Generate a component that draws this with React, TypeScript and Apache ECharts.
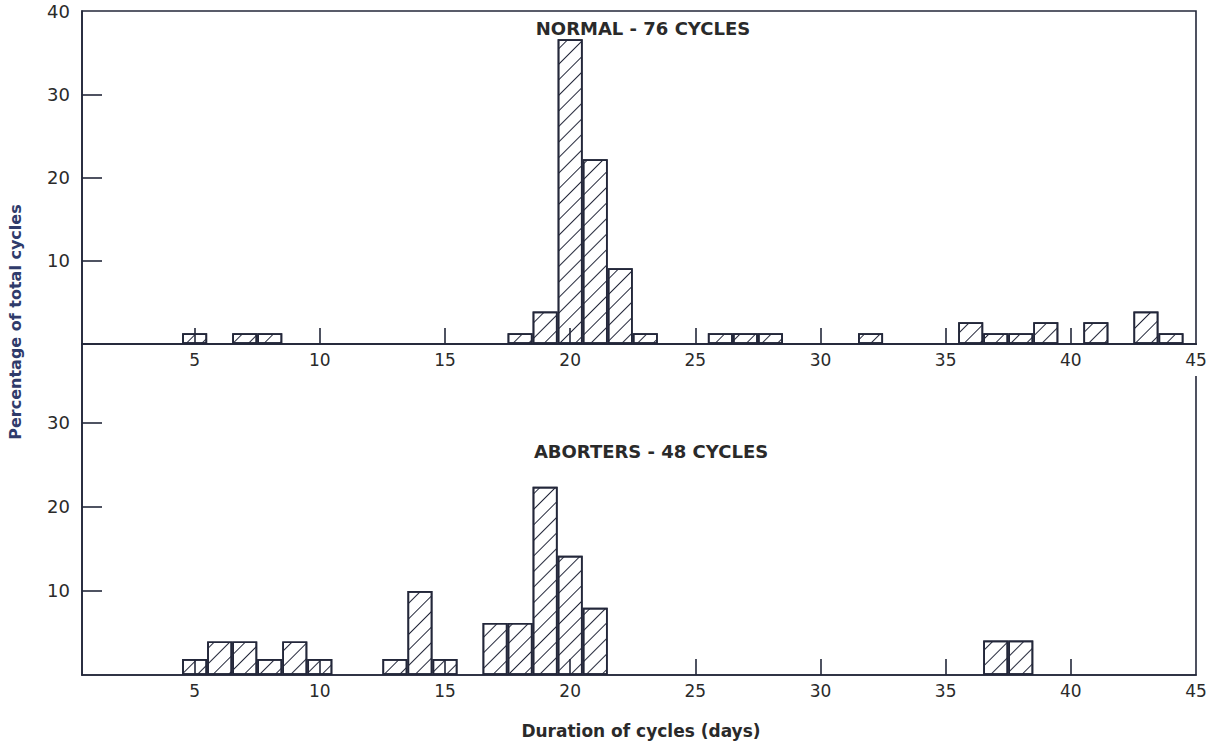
import React, { useEffect, useRef } from 'react';
import * as echarts from 'echarts';

// Normal cycles (76): day -> percentage of total cycles
const normalDays = [5, 7, 8, 18, 19, 20, 21, 22, 23, 26, 27, 28, 32, 36, 37, 38, 39, 41, 43, 44];
const normalPct = [1.3, 1.3, 1.3, 1.3, 3.9, 36.6, 22.2, 9.1, 1.3, 1.3, 1.3, 1.3, 1.3, 2.6, 1.3, 1.3, 2.6, 2.6, 3.9, 1.3];

// Aborters (48 cycles)
const aborterDays = [5, 6, 7, 8, 9, 10, 13, 14, 15, 17, 18, 19, 20, 21, 37, 38];
const aborterPct = [1.9, 4.0, 4.0, 1.9, 4.0, 1.9, 1.9, 10.0, 1.9, 6.2, 6.2, 22.4, 14.2, 8.0, 4.1, 4.1];

const xLabelValues = [5, 10, 15, 20, 25, 30, 35, 40, 45];
const xTickValues = [5, 10, 15, 20, 25, 30, 35, 40];
const topYLabels = [10, 20, 30, 40];
const bottomYLabels = [10, 20, 30];
const yTickValues = [10, 20, 30];

const titleTop = 'NORMAL - 76 CYCLES';
const titleBottom = 'ABORTERS - 48 CYCLES';
const xTitle = 'Duration of cycles (days)';
const yTitle = 'Percentage of total cycles';

const INK = '#23273a';
const TEXT = '#2a2a2a';
const NAVY = '#2f3b6b';
const FONT = 'DejaVu Sans';

const hatch = {
  symbol: 'rect',
  symbolSize: 1,
  dashArrayX: [1, 0],
  dashArrayY: [1, 9.5],
  rotation: -Math.PI / 4,
  color: INK,
  backgroundColor: '#ffffff',
};

function xAxisCfg(gridIndex: number) {
  return {
    type: 'value',
    gridIndex,
    min: 0.5,
    max: 45,
    z: gridIndex === 0 ? 10 : 2,
    axisLine: { show: true, lineStyle: { color: INK, width: 1.6 } },
    axisTick: { show: true, inside: true, length: 16, customValues: xTickValues, lineStyle: { color: INK, width: 1.6 } },
    axisLabel: {
      customValues: xLabelValues,
      margin: 1,
      fontFamily: FONT,
      fontSize: 17,
      color: (v: number) => (v === 45 ? NAVY : TEXT),
      backgroundColor: '#ffffff',
      padding: [6, 2, 8, 2],
    },
    splitLine: { show: false },
  };
}

function yAxisCfg(gridIndex: number, labels: number[], max: number) {
  return {
    type: 'value',
    gridIndex,
    min: 0,
    max,
    axisLine: { show: true, lineStyle: { color: INK, width: 1.6 } },
    axisTick: { show: true, inside: true, length: 20, customValues: yTickValues, lineStyle: { color: INK, width: 1.6 } },
    axisLabel: { customValues: labels, margin: 12, fontFamily: FONT, fontSize: 18, color: TEXT },
    splitLine: { show: false },
  };
}

function barSeries(idx: number, days: number[], pct: number[]) {
  return {
    type: 'bar',
    xAxisIndex: idx,
    yAxisIndex: idx,
    data: days.map((d, i) => [d, pct[i]]),
    barWidth: 25,
    itemStyle: { color: '#ffffff', borderColor: INK, borderWidth: 1.7, decal: hatch },
  };
}

export default function App() {
  const ref = useRef<HTMLDivElement>(null);
  useEffect(() => {
    document.body.style.margin = '0';
    const chart = echarts.init(ref.current!, undefined, { renderer: 'svg' });
    chart.setOption({
      animation: false,
      backgroundColor: '#ffffff',
      grid: [
        { left: 82, right: 31, top: 11, height: 333, show: true, borderColor: INK, borderWidth: 1.6, backgroundColor: 'transparent' },
        { left: 82, right: 31, top: 344, height: 331, show: true, borderColor: INK, borderWidth: 1.6, backgroundColor: 'transparent' },
      ],
      xAxis: [xAxisCfg(0), xAxisCfg(1)],
      yAxis: [yAxisCfg(0, topYLabels, 40), yAxisCfg(1, bottomYLabels, 39.4)],
      series: [barSeries(0, normalDays, normalPct), barSeries(1, aborterDays, aborterPct)],
      graphic: [
        { type: 'text', x: 643, y: 28, style: { text: titleTop, align: 'center', verticalAlign: 'middle', fontFamily: FONT, fontSize: 18, fontWeight: 'bold', fill: TEXT } },
        { type: 'text', x: 651, y: 451, style: { text: titleBottom, align: 'center', verticalAlign: 'middle', fontFamily: FONT, fontSize: 18, fontWeight: 'bold', fill: TEXT } },
        { type: 'text', x: 641, y: 731, style: { text: xTitle, align: 'center', verticalAlign: 'middle', fontFamily: FONT, fontSize: 17, fontWeight: 'bold', fill: TEXT } },
        { type: 'text', x: 15, y: 322, rotation: Math.PI / 2, style: { text: yTitle, align: 'center', verticalAlign: 'middle', fontFamily: FONT, fontSize: 16, fontWeight: 'bold', fill: NAVY } },
      ],
    });
    return () => chart.dispose();
  }, []);
  return <div ref={ref} style={{ width: 1227, height: 750 }} />;
}
